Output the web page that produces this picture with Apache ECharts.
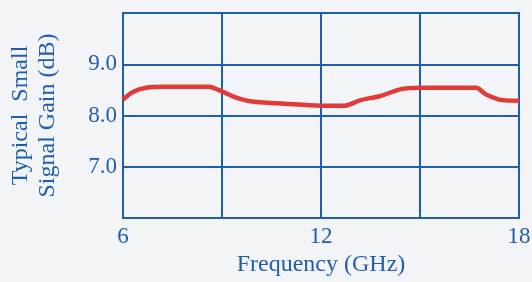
<!DOCTYPE html>
<html>
<head>
<meta charset="utf-8">
<script src="https://cdn.jsdelivr.net/npm/echarts@6/dist/echarts.min.js"></script>
<style>
  html, body { margin: 0; padding: 0; background: #f3f4f8; }
  #chart { width: 532px; height: 282px; }
</style>
</head>
<body>
<div id="chart"></div>
<script>
// frequency (GHz) and gain (dB)
var freq = [6.0, 6.3, 6.7, 7.2, 8.0, 8.6, 8.85, 9.35, 9.85, 10.9, 12.0, 12.7, 13.2, 13.8, 14.4, 15.0, 16.0, 16.7, 17.0, 17.5, 18.0];
var gain = [8.31, 8.46, 8.54, 8.56, 8.56, 8.56, 8.51, 8.37, 8.28, 8.23, 8.19, 8.19, 8.30, 8.38, 8.51, 8.54, 8.54, 8.54, 8.41, 8.30, 8.29];
var xTicks = [6, 12, 18];
var yTicks = [7, 8, 9];

var blue = '#1f5ea8';
var font = '"Liberation Serif", "DejaVu Serif", serif';

var data = [];
for (var i = 0; i < freq.length; i++) {
  data.push([freq[i], gain[i]]);
}

var myChart = echarts.init(document.getElementById('chart'));
var option = {
  backgroundColor: '#f3f4f8',
  animation: false,
  grid: {
    left: 123, right: 13, top: 13, bottom: 64,
    outerBoundsMode: 'none',
    containLabel: false,
    show: true,
    backgroundColor: 'transparent',
    borderColor: blue,
    borderWidth: 2
  },
  xAxis: {
    type: 'value',
    min: 6, max: 18, interval: 3,
    name: 'Frequency (GHz)',
    nameLocation: 'middle',
    nameGap: 35,
    nameTextStyle: { color: blue, fontFamily: font, fontSize: 24 },
    axisLine: { show: true, lineStyle: { color: blue, width: 2 } },
    axisTick: { show: false },
    splitLine: { show: true, lineStyle: { color: blue, width: 2 } },
    axisLabel: {
      color: blue, fontFamily: font, fontSize: 23, margin: 7,
      formatter: function (v) { return xTicks.indexOf(v) >= 0 ? String(v) : ''; }
    }
  },
  yAxis: {
    type: 'value',
    min: 6, max: 10, interval: 1,
    name: 'Typical  Small\nSignal Gain (dB)',
    nameLocation: 'middle',
    nameRotate: 90,
    nameGap: 62,
    nameTextStyle: { color: blue, fontFamily: font, fontSize: 24, lineHeight: 27 },
    axisLine: { show: true, lineStyle: { color: blue, width: 2 } },
    axisTick: { show: false },
    splitLine: { show: true, lineStyle: { color: blue, width: 2 } },
    axisLabel: {
      color: blue, fontFamily: font, fontSize: 23, margin: 6,
      formatter: function (v) { return yTicks.indexOf(v) >= 0 ? v.toFixed(1) : ''; }
    }
  },
  series: [
    {
      type: 'line',
      data: data,
      smooth: 0.3,
      showSymbol: false,
      lineStyle: { color: '#e23a36', width: 4.5 },
      z: 5
    }
  ]
};
myChart.setOption(option);
</script>
</body>
</html>
